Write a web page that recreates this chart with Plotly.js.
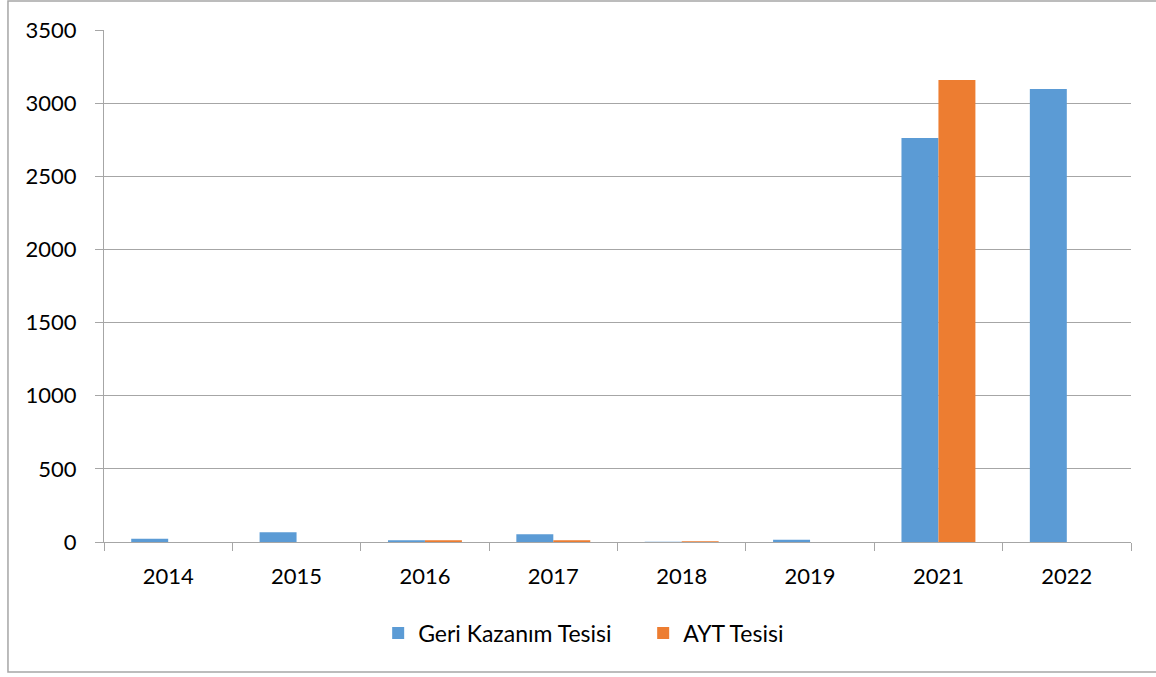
<!DOCTYPE html>
<html>
<head>
<meta charset="utf-8">
<script src="https://cdn.plot.ly/plotly-3.0.1.min.js"></script>
<style>html,body{margin:0;padding:0;background:#fff;}#chart{width:1156px;height:677px;}</style>
</head>
<body>
<div id="chart"></div>
<script>
const years = ["2014","2015","2016","2017","2018","2019","2021","2022"];
const geriKazanim = [23, 66, 12, 53, 2, 16, 2761, 3096];
const aytTesisi = [0, 0, 12, 12, 5, 0, 3158, 0];
const seriesNames = ["Geri Kazanım Tesisi", "AYT Tesisi"];
const yTicks = [0, 500, 1000, 1500, 2000, 2500, 3000, 3500];

const fontFam = "Lato, 'Open Sans', sans-serif";
const traces = [
  {type: "bar", x: years, y: geriKazanim, name: seriesNames[0], marker: {color: "#5B9BD5"}},
  {type: "bar", x: years, y: aytTesisi, name: seriesNames[1], marker: {color: "#ED7D31"}}
];
const layout = {
  width: 1156, height: 677,
  margin: {l: 104, r: 25, t: 30, b: 135},
  paper_bgcolor: "#fff", plot_bgcolor: "#fff",
  barmode: "group", bargap: 0.424, bargroupgap: 0,
  font: {family: fontFam, size: 22, color: "#000"},
  showlegend: true,
  legend: {orientation: "h", x: 0.525, xanchor: "center", y: -0.178, yanchor: "middle",
           font: {family: fontFam, size: 23, color: "#000"}, itemwidth: 30, tracegroupgap: 0,
           entrywidth: 220, entrywidthmode: "pixels"},
  xaxis: {type: "category", showline: true, linecolor: "#a6a6a6", linewidth: 1,
          ticks: "outside", tickson: "boundaries", ticklen: 8, tickcolor: "#a6a6a6",
          showgrid: false, ticklabelstandoff: 15, tickfont: {size: 22}},
  yaxis: {range: [0, 3500], tickvals: yTicks, showline: true, linecolor: "#a6a6a6", linewidth: 1,
          ticks: "outside", ticklen: 8, tickcolor: "#a6a6a6",
          showgrid: true, gridcolor: "#a6a6a6", gridwidth: 1, zeroline: false,
          ticklabelstandoff: 14, tickfont: {size: 22}},
  shapes: [{type: "rect", xref: "paper", yref: "paper",
            x0: -0.0935, x1: 1.1, y0: -0.254, y1: 1.0566,
            line: {color: "#a6a6a6", width: 1.5}, fillcolor: "rgba(0,0,0,0)", layer: "below"}]
};
Plotly.newPlot("chart", traces, layout, {displayModeBar: false, staticPlot: true});
</script>
</body>
</html>
